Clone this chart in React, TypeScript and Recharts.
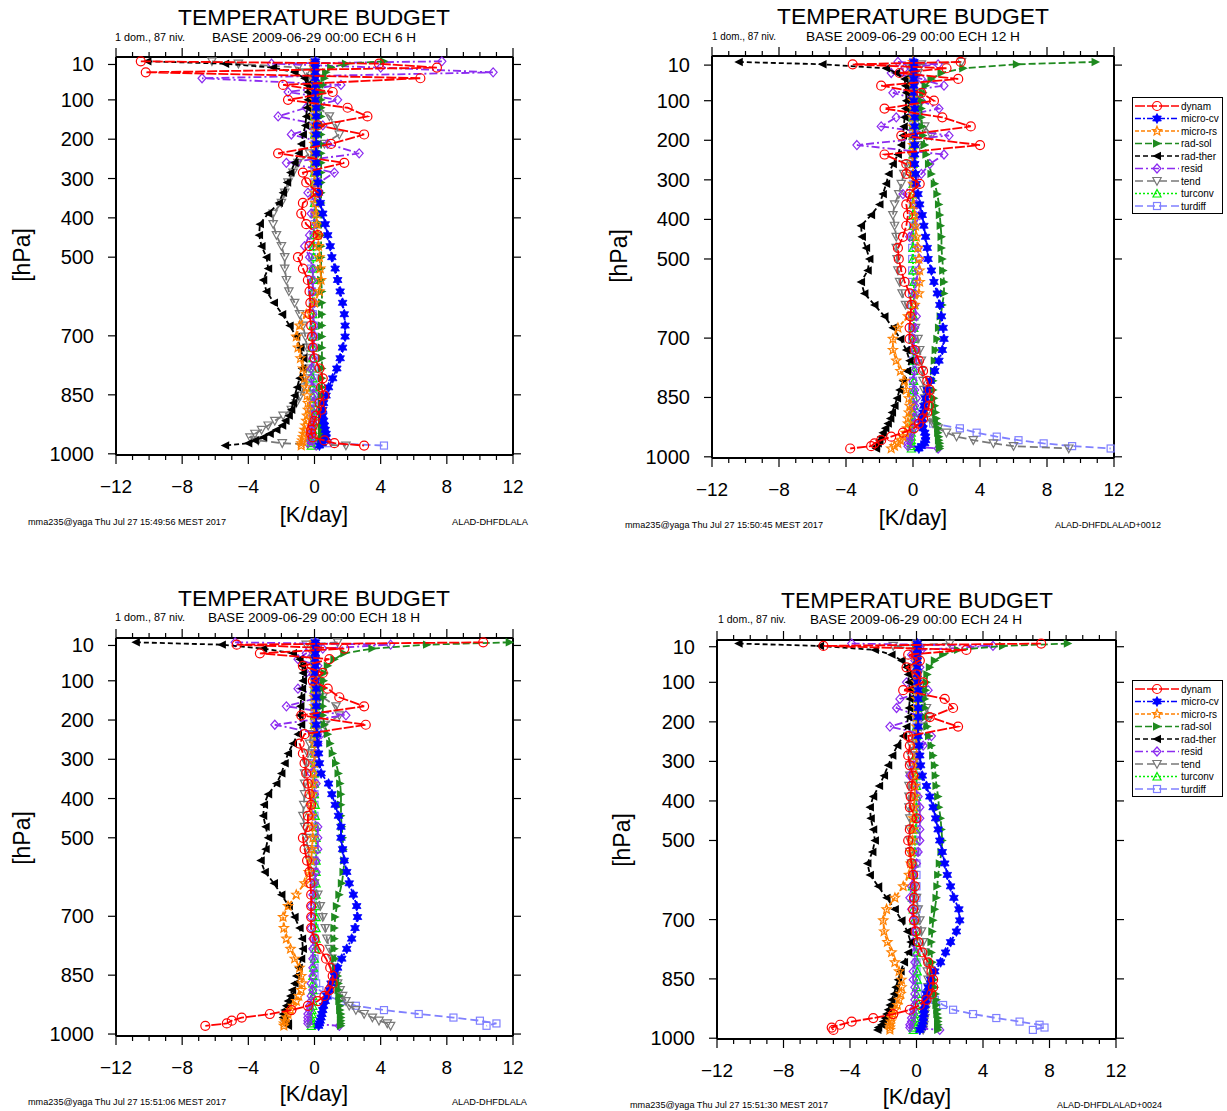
import React from "react";
import { ScatterChart, Scatter, XAxis, YAxis } from "recharts";

// model levels (hPa) shared by every profile
const LEVELS = [
  2, 8, 18, 30, 45, 62, 80, 100,
  120, 142, 165, 188, 212, 236, 260, 285,
  310, 336, 362, 389, 416, 444, 472, 500,
  529, 558, 587, 616, 645, 674, 702, 730,
  757, 783, 808, 831, 852, 871, 888, 903,
  916, 928, 939, 949, 958, 966, 973, 979,
];

const X_TICKS = [-12, -11, -10, -9, -8, -7, -6, -5, -4, -3, -2, -1, 0, 1, 2, 3, 4, 5, 6, 7, 8, 9, 10, 11, 12];
const Y_TICKS = [10, 100, 200, 300, 400, 500, 700, 850, 1000];
const TERMS = ["dynam", "micro-cv", "micro-rs", "rad-sol", "rad-ther", "resid", "tend", "turconv", "turdiff"];

// ---- ECH 6 H
const dynam06 = [
  -10.5, 3.9, 7.4, -10.2, 6.4, -1.9, 1.1, -1.6,
  2.0, 3.2, 0.2, 3.0, 1.0, -2.2, 1.8, -0.7,
  -0.5, 0.2, -0.7, -0.8, -0.5, 0.2, -0.3, -1.0,
  -0.7, -0.4, -0.3, -0.25, -0.3, -0.2, -0.15, -0.1,
  0.0, 0.3, 0.5, 0.4, 0.6, 0.3, 0.4, 0.1,
  0.0, -0.1, -0.2, -0.2, -0.1, 0.6, 1.2, 3.0,
];
const microcv06 = [
  0.05, 0.05, 0.05, 0.05, 0.05, 0.05, 0.05, 0.05,
  0.1, 0.1, 0.1, 0.1, 0.1, 0.1, 0.1, 0.15,
  0.2, 0.25, 0.35, 0.5, 0.65, 0.8, 0.95, 1.05,
  1.25, 1.4, 1.55, 1.7, 1.8, 1.85, 1.85, 1.7,
  1.55, 1.35, 1.1, 0.85, 0.7, 0.55, 0.5, 0.5,
  0.55, 0.6, 0.65, 0.7, 0.7, 0.6, 0.45, 0.3,
];
const micrors06 = [
  0, 0, 0, 0, 0, 0, 0, 0,
  0, 0, 0, 0, 0, 0, 0, 0,
  0, 0, 0.05, 0.1, 0.15, 0.2, 0.25, 0.3,
  0.35, 0.4, 0.3, 0.0, -0.5, -0.9, -1.1, -1.0,
  -0.85, -0.7, -0.6, -0.5, -0.45, -0.4, -0.4, -0.45,
  -0.5, -0.55, -0.6, -0.65, -0.7, -0.75, -0.8, -0.8,
];
const radsol06 = [
  4.2, 1.9, 1.0, 0.7, 0.6, 0.5, 0.45, 0.4,
  0.4, 0.4, 0.4, 0.4, 0.4, 0.4, 0.4, 0.4,
  0.4, 0.4, 0.4, 0.4, 0.4, 0.4, 0.4, 0.4,
  0.4, 0.4, 0.45, 0.45, 0.45, 0.45, 0.45, 0.45,
  0.45, 0.45, 0.45, 0.45, 0.45, 0.45, 0.45, 0.45,
  0.45, 0.45, 0.45, 0.45, 0.45, 0.45, 0.4, 0.4,
];
const radther06 = [
  -10.1, -5.4, -2.5, -1.2, -0.6, -0.45, -0.4, -0.4,
  -0.45, -0.5, -0.55, -0.7, -0.8, -0.95, -1.2, -1.45,
  -1.65, -1.9, -2.15, -2.8, -3.3, -3.35, -3.2, -2.9,
  -2.8, -3.1, -2.9, -2.45, -1.95, -1.5, -1.1, -0.85,
  -0.7, -0.75, -0.9, -1.05, -1.2, -1.3, -1.4, -1.55,
  -1.75, -1.95, -2.3, -2.7, -3.1, -3.6, -4.0, -5.4,
];
const resid06 = [
  7.7, -2.6, 4.0, 10.8, -6.8, 1.6, -1.6, 1.4,
  -0.5, -2.2, 0.5, -1.4, 0.8, 2.7, -1.7, 1.2,
  0.3, -0.4, 0.1, -0.2, 0.1, -0.3, -0.6, -0.3,
  -0.1, -0.1, -0.1, 0.0, -0.1, 0.0, 0.0, -0.1,
  -0.1, -0.2, -0.2, -0.1, 0.0, -0.1, -0.2, -0.1,
  -0.1, -0.2, -0.2, -0.2, -0.2, -0.3, -0.4, 0.1,
];
const tend06 = [
  -6.2, -4.6, -1.0, -0.5, -0.3, -0.2, 0.0, 0.1,
  0.3, 0.9, 1.3, 1.5, 0.6, -0.3, -1.0, -1.3,
  -1.6, -1.8, -2.0, -2.5, -2.5, -2.3, -2.0, -1.8,
  -1.8, -1.7, -1.55, -1.2, -0.9, -0.7, -0.55, -0.45,
  -0.45, -0.5, -0.55, -0.65, -0.85, -1.1, -1.4, -1.9,
  -2.4, -2.8, -3.2, -3.6, -3.9, -3.4, -1.95, 1.9,
];
const turconv06 = [
  0, 0, 0, 0, 0, 0, 0, 0,
  0, 0, 0, 0, 0, 0, 0, 0,
  0, 0, 0, 0, 0, -0.05, -0.05, -0.05,
  -0.1, -0.1, -0.1, -0.1, -0.1, -0.1, -0.1, -0.1,
  -0.1, -0.1, -0.1, -0.1, -0.1, -0.1, -0.1, -0.1,
  -0.1, -0.1, -0.1, -0.15, -0.15, -0.2, -0.2, -0.2,
];
const turdiff06 = [
  0, 0, 0, 0, 0, 0, 0, 0,
  0, 0, 0, 0, 0, 0, 0, 0,
  0, 0, 0, 0, 0, -0.05, -0.1, -0.15,
  -0.2, -0.2, -0.15, -0.1, -0.1, -0.05, -0.05, -0.05,
  -0.05, -0.05, -0.05, -0.05, -0.05, -0.05, -0.05, -0.1,
  -0.1, -0.1, -0.2, -0.3, -0.3, -0.2, 0.8, 4.2,
];

// ---- ECH 12 H
const dynam12 = [
  2.85, -3.6, 2.0, -0.8, 2.7, -1.9, 0.5, 1.25,
  -1.7, 1.75, 3.45, -0.7, 4.0, -1.7, -0.4, -0.4,
  0.4, -0.2, -0.4, -0.3, -0.4, -0.6, -0.9, -0.85,
  -0.7, -0.5, -0.2, -0.1, -0.15, -0.2, -0.2, 0.1,
  0.35, 0.6, 0.85, 1.0, 1.0, 0.95, 0.85, 0.6,
  0.35, 0.05, -0.6, -1.3, -1.9, -2.3, -2.5, -3.75,
];
const microcv12 = [
  0.05, 0.05, 0.05, 0.05, 0.05, 0.05, 0.05, 0.05,
  0.1, 0.1, 0.1, 0.1, 0.1, 0.1, 0.1, 0.15,
  0.2, 0.3, 0.4, 0.55, 0.65, 0.75, 0.85, 0.9,
  1.1, 1.25, 1.45, 1.6, 1.7, 1.8, 1.85, 1.75,
  1.55, 1.3, 1.05, 0.85, 0.75, 0.65, 0.6, 0.55,
  0.55, 0.6, 0.7, 0.75, 0.75, 0.7, 0.5, 0.35,
];
const micrors12 = [
  0, 0, 0, 0, 0, 0, 0, 0,
  0, 0, 0, 0, 0, 0, 0, 0,
  0, 0, 0.05, 0.1, 0.15, 0.2, 0.3, 0.35,
  0.4, 0.4, 0.35, 0.1, -0.3, -0.9, -1.2, -1.2,
  -1.0, -0.75, -0.5, -0.4, -0.25, -0.2, -0.25, -0.3,
  -0.3, -0.35, -0.45, -0.6, -0.75, -0.9, -1.1, -1.3,
];
const radsol12 = [
  10.9, 6.2, 3.0, 1.7, 1.1, 0.75, 0.6, 0.5,
  0.5, 0.5, 0.55, 0.6, 0.7, 0.8, 0.95, 1.1,
  1.3, 1.45, 1.55, 1.6, 1.65, 1.7, 1.7, 1.75,
  1.8, 1.85, 1.85, 1.75, 1.65, 1.55, 1.45, 1.35,
  1.3, 1.25, 1.2, 1.2, 1.25, 1.3, 1.35, 1.4,
  1.45, 1.5, 1.5, 1.55, 1.55, 1.6, 1.6, 1.6,
];
const radther12 = [
  -10.4, -5.4, -1.6, -1.0, -0.5, -0.45, -0.4, -0.4,
  -0.45, -0.5, -0.55, -0.6, -0.7, -0.9, -1.2, -1.45,
  -1.6, -1.8, -2.0, -2.5, -3.1, -3.05, -2.8, -2.6,
  -2.7, -3.1, -2.9, -2.3, -1.7, -1.2, -0.75, -0.4,
  -0.2, -0.35, -0.6, -0.8, -0.95, -1.1, -1.25, -1.35,
  -1.5, -1.65, -1.8, -1.9, -2.0, -2.1, -2.2, -2.2,
];
const resid12 = [
  -0.9, 1.5, -0.5, -1.3, 0.5, 1.85, -1.2, 0.5,
  1.55, -1.0, -1.9, 2.15, -3.35, 1.85, 1.0, 0.5,
  0.0, -0.6, 0.2, 0.4, 0.1, -0.2, 0.3, 0.4,
  0.3, 0.2, 0.1, 0.1, 0.2, 0.1, 0.0, 0.1,
  0.2, 0.1, 0.0, 0.1, 0.2, 0.1, 0.0, 0.1,
  0.1, 0.0, -0.1, -0.2, -0.2, -0.3, -0.3, 1.5,
];
const tend12 = [
  2.9, 0.5, -0.2, 0.3, 0.0, 0.1, -0.1, 0.0,
  0.2, 0.3, 0.7, 1.1, 0.4, -0.1, -0.4, -0.55,
  -0.7, -0.85, -1.1, -1.2, -1.1, -1.0, -1.0, -0.95,
  -0.9, -0.8, -0.65, -0.45, -0.1, 0.15, 0.3, 0.4,
  0.5, 0.55, 0.6, 0.65, 0.7, 0.75, 0.85, 1.0,
  1.2, 1.5, 2.0, 2.6, 3.6, 4.8, 6.0, 9.3,
];
const turconv12 = [
  0, 0, 0, 0, 0, 0, 0, 0,
  0, 0, 0, 0, 0, 0, 0, 0,
  0, 0, 0, 0, 0, 0, 0, 0,
  0, 0.05, 0.05, 0.05, 0.05, 0.05, 0.05, 0.05,
  0.05, 0.05, 0.05, 0.05, 0.05, 0.05, 0, 0,
  -0.05, -0.05, -0.1, -0.1, -0.1, -0.1, -0.1, -0.1,
];
const turdiff12 = [
  0, 0, 0, 0, 0, 0, 0, 0,
  0, 0, 0, 0, 0, 0, 0, 0,
  0, 0, 0, 0, 0, -0.05, -0.05, -0.05,
  -0.05, -0.05, -0.05, -0.05, -0.05, -0.05, -0.05, -0.05,
  0, 0, 0, 0, 0, 0, 0.1, 0.3,
  1.2, 2.8, 3.8, 5.0, 6.3, 7.8, 9.5, 11.8,
];

// ---- ECH 18 H
const dynam18 = [
  10.2, -4.7, 1.8, -3.3, 0.9, -0.7, 0.5, -0.1,
  0.8, 1.5, 3.0, -0.8, 3.1, -0.6, -0.9, -0.7,
  -0.6, -0.5, -0.4, -0.3, -0.2, -0.4, -0.4, -0.7,
  -0.6, -0.45, -0.3, -0.25, -0.2, -0.2, -0.2, -0.2,
  0.0, 0.3, 0.7, 0.95, 1.1, 1.1, 0.9, 0.6,
  0.2, -0.4, -1.4, -2.7, -4.4, -5.0, -5.3, -6.6,
];
const microcv18 = [
  0.05, 0.05, 0.05, 0.05, 0.05, 0.05, 0.05, 0.05,
  0.1, 0.1, 0.1, 0.1, 0.1, 0.15, 0.2, 0.25,
  0.3, 0.4, 0.85, 1.05, 1.25, 1.45, 1.6, 1.6,
  1.7, 1.8, 1.95, 2.1, 2.35, 2.55, 2.6, 2.45,
  2.25, 1.95, 1.65, 1.4, 1.2, 1.0, 0.9, 0.75,
  0.65, 0.55, 0.5, 0.45, 0.4, 0.35, 0.3, 0.25,
];
const micrors18 = [
  0, 0, 0, 0, 0, 0, 0, 0,
  0, 0, 0, 0, 0, 0, 0, 0,
  0, -0.05, -0.1, -0.15, -0.2, -0.2, -0.15, -0.1,
  -0.15, -0.2, -0.35, -0.6, -1.1, -1.6, -1.9, -1.85,
  -1.7, -1.45, -1.2, -0.9, -0.8, -0.75, -0.8, -0.95,
  -1.1, -1.3, -1.45, -1.6, -1.7, -1.8, -1.85, -1.85,
];
const radsol18 = [
  11.8, 6.8, 3.5, 1.8, 1.2, 0.8, 0.6, 0.55,
  0.5, 0.5, 0.5, 0.5, 0.6, 0.8, 0.95, 1.1,
  1.3, 1.45, 1.55, 1.6, 1.6, 1.6, 1.65, 1.7,
  1.75, 1.8, 1.75, 1.65, 1.5, 1.35, 1.25, 1.2,
  1.2, 1.2, 1.25, 1.3, 1.4, 1.45, 1.45, 1.5,
  1.5, 1.55, 1.55, 1.6, 1.6, 1.6, 1.6, 1.6,
];
const radther18 = [
  -10.8, -5.6, -3.1, -1.3, -0.9, -0.75, -0.7, -0.7,
  -0.75, -0.8, -0.85, -0.9, -0.8, -1.0, -1.3, -1.6,
  -1.8, -2.0, -2.3, -2.8, -3.05, -3.1, -2.95, -2.8,
  -2.95, -3.25, -3.0, -2.45, -2.0, -1.55, -1.2, -0.9,
  -0.75, -0.7, -0.8, -0.95, -1.1, -1.2, -1.35, -1.45,
  -1.6, -1.7, -1.8, -1.9, -1.9, -1.8, -1.6, -1.6,
];
const resid18 = [
  -4.8, 4.6, 0.5, -0.5, -1.0, 0.2, -0.5, 0.3,
  -1.0, 0.3, -1.7, 1.9, -2.4, 0.4, 0.2, 0.0,
  0.0, -0.2, 0.1, 0.0, -0.2, -0.1, 0.2, 0.2,
  0.2, 0.1, 0.1, 0.0, -0.1, -0.2, -0.2, -0.2,
  -0.1, -0.1, -0.1, -0.1, -0.1, -0.2, -0.1, -0.2,
  -0.2, -0.3, -0.3, -0.4, -0.4, -0.4, -0.4, 1.5,
];
const tend18 = [
  1.4, -0.5, 0.2, 0.0, -0.1, 0.0, 0.0, 0.1,
  0.2, 0.5, 1.3, 1.5, 0.6, -0.2, -0.3, -0.4,
  -0.5, -0.6, -0.6, -0.6, -0.65, -0.7, -0.6, -0.5,
  -0.4, -0.3, -0.15, 0.0, 0.2, 0.35, 0.5, 0.65,
  0.75, 0.9, 1.05, 1.15, 1.3, 1.4, 1.55, 1.7,
  1.9, 2.1, 2.5, 3.0, 3.5, 3.9, 4.4, 4.6,
];
const turconv18 = [
  0, 0, 0, 0, 0, 0, 0, 0,
  0, 0, 0, 0, 0, 0, 0, 0,
  0, 0, 0, 0, 0.05, 0.05, 0.1, 0.1,
  0.1, 0.1, 0.1, 0.1, 0.1, 0.1, 0.1, 0.1,
  0.1, 0.05, 0.0, -0.05, -0.1, -0.1, -0.1, -0.1,
  -0.1, -0.1, -0.15, -0.15, -0.2, -0.2, -0.2, -0.2,
];
const turdiff18 = [
  0, 0, 0, 0, 0, 0, 0, 0,
  0, 0, 0, 0, 0, 0, 0, 0,
  0, 0, 0, 0, 0, 0, 0, 0,
  0, 0, 0, 0, 0, 0, 0, 0,
  0, 0, 0, 0, 0, 0.1, 0.3, 0.8,
  1.6, 2.5, 4.2, 6.3, 8.4, 10.0, 11.0, 10.4,
];

// ---- ECH 24 H
const dynam24 = [
  7.5, -5.6, 3.0, -0.5, 0.2, -0.6, 0.0, 0.4,
  -0.8, 1.7, 2.2, 0.8, 2.5, -0.5, -0.4, -0.5,
  -0.4, -0.2, -0.3, -0.35, -0.4, 0.0, -0.4, -0.5,
  -0.4, -0.3, -0.2, -0.1, -0.15, -0.2, -0.15, -0.05,
  0.1, 0.35, 0.7, 0.9, 1.0, 1.0, 0.9, 0.6,
  0.2, -0.4, -1.4, -2.6, -3.9, -4.6, -5.1, -5.0,
];
const microcv24 = [
  0.05, 0.05, 0.05, 0.05, 0.05, 0.05, 0.05, 0.05,
  0.1, 0.1, 0.1, 0.1, 0.1, 0.1, 0.15, 0.2,
  0.25, 0.35, 0.6, 0.8, 1.0, 1.15, 1.3, 1.4,
  1.55, 1.7, 1.85, 2.05, 2.25, 2.55, 2.6, 2.4,
  2.05, 1.75, 1.45, 1.1, 0.85, 0.7, 0.6, 0.55,
  0.5, 0.45, 0.45, 0.4, 0.4, 0.35, 0.3, 0.2,
];
const micrors24 = [
  0, 0, 0, 0, 0, 0, 0, 0,
  0, 0, 0, 0, 0, 0, 0, 0,
  0, -0.05, -0.1, -0.1, -0.15, -0.2, -0.2, -0.25,
  -0.3, -0.35, -0.45, -0.8, -1.3, -1.8, -2.0, -1.95,
  -1.75, -1.5, -1.3, -1.05, -0.9, -0.9, -0.95, -1.05,
  -1.15, -1.3, -1.4, -1.5, -1.55, -1.6, -1.6, -1.6,
];
const radsol24 = [
  9.1, 5.2, 2.5, 1.6, 1.1, 0.8, 0.65, 0.6,
  0.55, 0.5, 0.5, 0.55, 0.65, 0.75, 0.9, 1.0,
  1.1, 1.15, 1.2, 1.3, 1.35, 1.45, 1.5, 1.55,
  1.5, 1.4, 1.3, 1.25, 1.2, 1.1, 1.0, 0.95,
  0.9, 0.9, 0.95, 1.0, 1.05, 1.1, 1.15, 1.2,
  1.2, 1.25, 1.25, 1.3, 1.3, 1.3, 1.3, 1.3,
];
const radther24 = [
  -10.7, -5.8, -2.5, -1.5, -0.9, -0.6, -0.5, -0.45,
  -0.4, -0.4, -0.45, -0.5, -0.6, -0.8, -1.15, -1.45,
  -1.7, -1.95, -2.25, -2.6, -2.8, -2.75, -2.6, -2.5,
  -2.65, -2.95, -2.8, -2.3, -1.8, -1.3, -0.9, -0.55,
  -0.35, -0.5, -0.75, -0.95, -1.1, -1.25, -1.35, -1.5,
  -1.6, -1.7, -1.8, -1.9, -2.0, -2.1, -2.3, -2.35,
];
const resid24 = [
  -3.9, 4.6, 0.3, -0.3, -0.1, 0.2, -0.2, -0.6,
  0.7, -1.0, -1.2, 0.3, -1.6, 0.9, 0.4, 0.1,
  -0.2, -0.4, -0.1, 0.1, 0.2, 0.2, 0.2, 0.2,
  0.1, 0.0, -0.2, -0.3, -0.4, -0.3, -0.2, -0.2,
  -0.2, -0.1, -0.1, -0.2, -0.2, -0.1, -0.1, -0.1,
  -0.1, -0.2, -0.2, -0.3, -0.3, -0.4, -0.4, 1.4,
];
const tend24 = [
  2.0, -1.4, 0.2, -0.1, 0.0, 0.0, 0.1, 0.0,
  0.2, 0.4, 0.6, 0.8, 0.3, -0.2, -0.3, -0.35,
  -0.4, -0.4, -0.45, -0.45, -0.45, -0.4, -0.4, -0.4,
  -0.4, -0.3, -0.2, -0.1, 0.0, 0.1, 0.2, 0.3,
  0.4, 0.5, 0.6, 0.65, 0.7, 0.7, 0.7, 0.65,
  0.6, 0.55, 0.5, 0.5, 0.45, 0.45, 0.4, 0.4,
];
const turconv24 = [
  0, 0, 0, 0, 0, 0, 0, 0,
  0, 0, 0, 0, 0, 0, 0, 0,
  0, 0, 0, 0, 0, 0, -0.05, -0.1,
  -0.1, -0.15, -0.2, -0.25, -0.25, -0.2, -0.15, -0.1,
  -0.05, 0.0, 0.05, 0.05, 0.05, 0.0, 0.0, 0.0,
  -0.05, -0.05, -0.1, -0.1, -0.15, -0.15, -0.2, -0.2,
];
const turdiff24 = [
  0, 0, 0, 0, 0, 0, 0, 0,
  0, 0, 0, 0, 0, 0, 0, 0,
  0, 0, 0, 0, 0, 0, 0, 0,
  0, 0, 0, 0, 0, 0, 0, 0,
  0, 0, 0, 0, 0, 0.1, 0.5, 1.1,
  1.6, 2.2, 3.4, 4.8, 6.2, 7.4, 7.7, 7.0,
];

const LOOK = [
  { color: "#ff0000", dash: "10 2", mark: "circle" },
  { color: "#0000ff", dash: "6 2 2 2", mark: "star6" },
  { color: "#ff8000", dash: "4 2", mark: "star5" },
  { color: "#1f8a1f", dash: "7 3", mark: "right" },
  { color: "#000000", dash: "5 3", mark: "left" },
  { color: "#8c2cf0", dash: "8 3 2 3", mark: "diamond" },
  { color: "#787878", dash: "8 4", mark: "down" },
  { color: "#00ee00", dash: "2 2", mark: "up" },
  { color: "#8080ff", dash: "8 4", mark: "square" },
];

// turdiff is painted first, dynam last (as in the original plot)
const PAINT_ORDER = [8, 7, 6, 5, 4, 3, 2, 1, 0];

const FONT = '"Liberation Sans", Arial, Helvetica, sans-serif';

const PANELS = [
  {
    key: "h06",
    series: [dynam06, microcv06, micrors06, radsol06, radther06, resid06, tend06, turconv06, turdiff06],
    box: { x: 116, y: 57, w: 397, h: 398 },
    yDomain: [-9, 1003],
    sub: "BASE 2009-06-29 00:00 ECH 6 H",
    stamp: "mma235@yaga Thu Jul 27 15:49:56 MEST 2017",
    exp: "ALAD-DHFDLALA",
    legend: null,
    t: { title: [178, 25], sub1: [115, 41, 70], sub2: [212, 42, 204], hpa: [22, 255], kday: [314, 522], footL: [28, 525], footR: [452, 525, 76] },
  },
  {
    key: "h12",
    series: [dynam12, microcv12, micrors12, radsol12, radther12, resid12, tend12, turconv12, turdiff12],
    box: { x: 712, y: 56, w: 402, h: 402 },
    yDomain: [-13, 1003],
    sub: "BASE 2009-06-29 00:00 ECH 12 H",
    stamp: "mma235@yaga Thu Jul 27 15:50:45 MEST 2017",
    exp: "ALAD-DHFDLALAD+0012",
    legend: [1132, 97],
    t: { title: [777, 24], sub1: [712, 40, 64], sub2: [806, 41, 214], hpa: [619, 256], kday: [913, 525], footL: [625, 528], footR: [1055, 528, 106] },
  },
  {
    key: "h18",
    series: [dynam18, microcv18, micrors18, radsol18, radther18, resid18, tend18, turconv18, turdiff18],
    box: { x: 116, y: 638, w: 397, h: 398 },
    yDomain: [-9, 1005],
    sub: "BASE 2009-06-29 00:00 ECH 18 H",
    stamp: "mma235@yaga Thu Jul 27 15:51:06 MEST 2017",
    exp: "ALAD-DHFDLALA",
    legend: null,
    t: { title: [178, 606], sub1: [115, 621, 70], sub2: [208, 622, 212], hpa: [22, 838], kday: [314, 1101], footL: [28, 1105], footR: [452, 1105, 75] },
  },
  {
    key: "h24",
    series: [dynam24, microcv24, micrors24, radsol24, radther24, resid24, tend24, turconv24, turdiff24],
    box: { x: 717, y: 640, w: 399, h: 399 },
    yDomain: [-7, 1002],
    sub: "BASE 2009-06-29 00:00 ECH 24 H",
    stamp: "mma235@yaga Thu Jul 27 15:51:30 MEST 2017",
    exp: "ALAD-DHFDLALAD+0024",
    legend: [1132, 680],
    t: { title: [781, 608], sub1: [718, 623, 68], sub2: [810, 624, 212], hpa: [622, 840], kday: [917, 1104], footL: [630, 1108], footR: [1057, 1108, 105] },
  },
];

function starPoints(cx: number, cy: number, ro: number, ri: number, n: number) {
  const pts: string[] = [];
  for (let k = 0; k < n * 2; k++) {
    const r = k % 2 === 0 ? ro : ri;
    const a = -Math.PI / 2 + (k * Math.PI) / n;
    pts.push(`${cx + r * Math.cos(a)},${cy + r * Math.sin(a)}`);
  }
  return pts.join(" ");
}

function Mark({ cx, cy, kind, color }: any) {
  if (typeof cx !== "number" || typeof cy !== "number") return <g />;
  const sw = 1.2;
  switch (kind) {
    case "circle":
      return <circle cx={cx} cy={cy} r={4.5} fill="none" stroke={color} strokeWidth={sw} />;
    case "star6":
      return <polygon points={starPoints(cx, cy, 5, 2.8, 6)} fill={color} stroke={color} strokeWidth={0.8} />;
    case "star5":
      return <polygon points={starPoints(cx, cy, 4.8, 2.1, 5)} fill="none" stroke={color} strokeWidth={sw} />;
    case "right":
      return <polygon points={`${cx - 4},${cy - 4.2} ${cx + 4.5},${cy} ${cx - 4},${cy + 4.2}`} fill={color} />;
    case "left":
      return <polygon points={`${cx + 4},${cy - 4.2} ${cx - 4.5},${cy} ${cx + 4},${cy + 4.2}`} fill={color} />;
    case "diamond":
      return <polygon points={`${cx},${cy - 4.5} ${cx + 4},${cy} ${cx},${cy + 4.5} ${cx - 4},${cy}`} fill="none" stroke={color} strokeWidth={sw} />;
    case "down":
      return <polygon points={`${cx - 4.2},${cy - 3.5} ${cx + 4.2},${cy - 3.5} ${cx},${cy + 4.2}`} fill="none" stroke={color} strokeWidth={sw} />;
    case "up":
      return <polygon points={`${cx - 4},${cy + 3.5} ${cx + 4},${cy + 3.5} ${cx},${cy - 4}`} fill="none" stroke={color} strokeWidth={sw} />;
    default:
      return <rect x={cx - 3.5} y={cy - 3.5} width={7} height={7} fill="none" stroke={color} strokeWidth={sw} />;
  }
}

const fmtX = (v: number) => (v < 0 ? `\u2212${-v}` : `${v}`);

function BottomTick({ x, y, payload }: any) {
  const major = payload.value % 4 === 0;
  return (
    <g>
      <line x1={x} x2={x} y1={y} y2={y + (major ? 9 : 5)} stroke="#000" strokeWidth={1.2} />
      {major && (
        <text x={x} y={y + 38} textAnchor="middle" fontSize={19} fontFamily={FONT} fill="#000">
          {fmtX(payload.value)}
        </text>
      )}
    </g>
  );
}

function TopTick({ x, y, payload }: any) {
  const major = payload.value % 4 === 0;
  return <line x1={x} x2={x} y1={y} y2={y - (major ? 9 : 5)} stroke="#000" strokeWidth={1.2} />;
}

function LeftTick({ x, y, payload }: any) {
  return (
    <g>
      <line x1={x} x2={x - 8} y1={y} y2={y} stroke="#000" strokeWidth={1.2} />
      <text x={x - 22} y={y + 7} textAnchor="end" fontSize={20} fontFamily={FONT} fill="#000">
        {payload.value}
      </text>
    </g>
  );
}

function RightTick({ x, y }: any) {
  return <line x1={x} x2={x + 8} y1={y} y2={y} stroke="#000" strokeWidth={1.2} />;
}

const AXIS = { stroke: "#000", strokeWidth: 2 };

function Panel({ cfg }: any) {
  const { box, yDomain, series } = cfg;
  const ML = 100, MT = 20, MR = 20, MB = 60;
  return (
    <div style={{ position: "absolute", left: box.x - ML, top: box.y - MT }}>
      <ScatterChart width={box.w + ML + MR} height={box.h + MT + MB} margin={{ top: 10, right: 10, bottom: 0, left: 10 }}>
        <XAxis xAxisId="b" orientation="bottom" type="number" dataKey="x" domain={[-12, 12]} ticks={X_TICKS} interval={0}
          height={MB} tickSize={0} tickMargin={0} tickLine={false} axisLine={AXIS} tick={<BottomTick />} />
        <XAxis xAxisId="t" orientation="top" type="number" dataKey="x" domain={[-12, 12]} ticks={X_TICKS} interval={0}
          height={10} tickSize={0} tickMargin={0} tickLine={false} axisLine={AXIS} tick={<TopTick />} />
        <YAxis yAxisId="l" orientation="left" type="number" dataKey="p" domain={yDomain} reversed ticks={Y_TICKS} interval={0}
          width={90} tickSize={0} tickMargin={0} tickLine={false} axisLine={AXIS} tick={<LeftTick />} />
        <YAxis yAxisId="r" orientation="right" type="number" dataKey="p" domain={yDomain} reversed ticks={Y_TICKS} interval={0}
          width={10} tickSize={0} tickMargin={0} tickLine={false} axisLine={AXIS} tick={<RightTick />} />
        {PAINT_ORDER.map((i) => (
          <Scatter
            key={TERMS[i]}
            name={TERMS[i]}
            xAxisId="b"
            yAxisId="l"
            data={LEVELS.map((p, k) => ({ x: series[i][k], p }))}
            fill={LOOK[i].color}
            line={{ stroke: LOOK[i].color, strokeWidth: 1.8, strokeDasharray: LOOK[i].dash }}
            lineType="joint"
            shape={(s: any) => <Mark cx={s.cx} cy={s.cy} kind={LOOK[i].mark} color={LOOK[i].color} />}
            isAnimationActive={false}
          />
        ))}
        <Scatter xAxisId="t" yAxisId="r" data={[{ x: -12, p: 10 }, { x: 12, p: 1000 }]} shape={() => <g />} isAnimationActive={false} />
      </ScatterChart>
    </div>
  );
}

function Legend({ at }: any) {
  return (
    <svg style={{ position: "absolute", left: at[0], top: at[1] }} width={92} height={118}>
      <rect x={0.5} y={0.5} width={90} height={116} fill="#fff" stroke="#000" strokeWidth={1} />
      {TERMS.map((t, i) => {
        const cy = 9 + i * 12.5;
        return (
          <g key={t}>
            <line x1={3} x2={47} y1={cy} y2={cy} stroke={LOOK[i].color} strokeWidth={1.3} strokeDasharray={LOOK[i].dash} />
            <Mark cx={25} cy={cy} kind={LOOK[i].mark} color={LOOK[i].color} />
            <text x={49} y={cy + 3.5} fontSize={10} fontFamily={FONT} fill="#000">{t}</text>
          </g>
        );
      })}
    </svg>
  );
}

function PanelText({ cfg }: any) {
  const t = cfg.t;
  return (
    <g fontFamily={FONT} fill="#000">
      <text x={t.title[0]} y={t.title[1]} fontSize={22} textLength={272} lengthAdjust="spacingAndGlyphs">TEMPERATURE BUDGET</text>
      <text x={t.sub1[0]} y={t.sub1[1]} fontSize={10.5} textLength={t.sub1[2]} lengthAdjust="spacingAndGlyphs">1 dom., 87 niv.</text>
      <text x={t.sub2[0]} y={t.sub2[1]} fontSize={13.5} textLength={t.sub2[2]} lengthAdjust="spacingAndGlyphs">{cfg.sub}</text>
      <text transform={`translate(${t.hpa[0] + 8},${t.hpa[1]}) rotate(-90)`} textAnchor="middle" fontSize={23}>[hPa]</text>
      <text x={t.kday[0]} y={t.kday[1]} textAnchor="middle" fontSize={22}>[K/day]</text>
      <text x={t.footL[0]} y={t.footL[1]} fontSize={9} textLength={198} lengthAdjust="spacingAndGlyphs">{cfg.stamp}</text>
      <text x={t.footR[0]} y={t.footR[1]} fontSize={9} textLength={t.footR[2]} lengthAdjust="spacingAndGlyphs">{cfg.exp}</text>
    </g>
  );
}

export default function App() {
  return (
    <div style={{ position: "absolute", left: 0, top: 0, width: 1227, height: 1111, background: "#fff", overflow: "hidden" }}>
      <svg style={{ position: "absolute", left: 0, top: 0 }} width={1227} height={1111}>
        {PANELS.map((cfg) => (
          <PanelText key={cfg.key} cfg={cfg} />
        ))}
      </svg>
      {PANELS.map((cfg) => (
        <Panel key={cfg.key} cfg={cfg} />
      ))}
      {PANELS.filter((cfg) => cfg.legend).map((cfg) => (
        <Legend key={cfg.key + "-lg"} at={cfg.legend} />
      ))}
    </div>
  );
}
